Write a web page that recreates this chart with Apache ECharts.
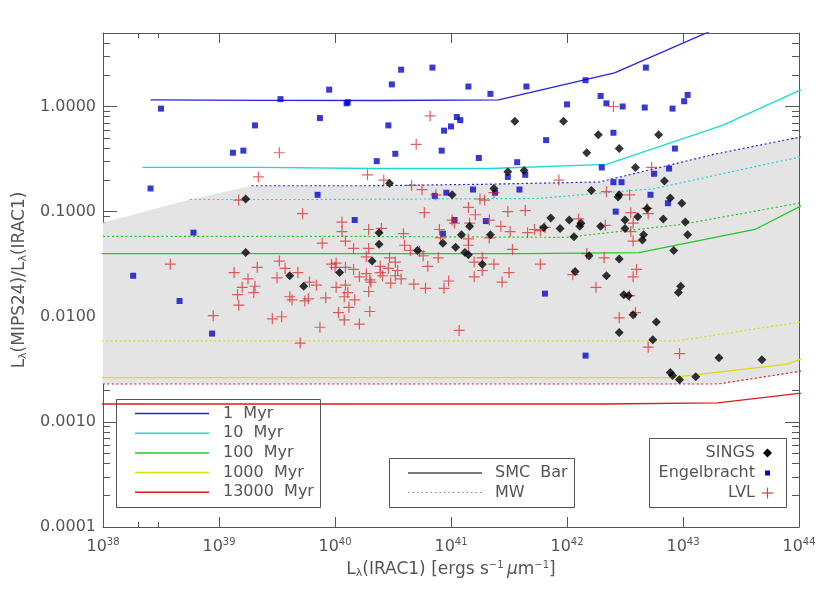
<!DOCTYPE html>
<html>
<head>
<meta charset="utf-8">
<script src="https://cdn.jsdelivr.net/npm/echarts@6/dist/echarts.min.js"></script>
<style>
  html, body { margin: 0; background: #fff; }
  #chart { width: 830px; height: 593px; }
</style>
</head>
<body>
<div id="chart"></div>
<script>
// all points are [log10 L(IRAC1), log10 ratio]
const sings = [
  [40.47,-0.73],[39.23,-0.88],[40.38,-1.20],[40.38,-1.31],[39.23,-1.39],[40.71,-1.37],[40.93,-1.30],
  [40.32,-1.47],[40.04,-1.58],[39.61,-1.61],[39.73,-1.71],[41.01,-0.84],[41.55,-0.14],[41.97,-0.14],
  [41.49,-0.62],[41.63,-0.61],[41.37,-0.78],[41.86,-1.06],[42.02,-1.08],[41.94,-1.16],[42.06,-1.24],
  [42.12,-1.11],[42.11,-1.14],[41.80,-1.15],[41.34,-1.22],[41.16,-1.14],[41.09,-1.22],[41.04,-1.34],
  [41.12,-1.39],[41.15,-1.41],[41.27,-1.50],[42.07,-1.57],[42.27,-0.27],[42.79,-0.27],[42.17,-0.44],
  [42.45,-0.40],[42.59,-0.58],[42.21,-0.80],[42.45,-0.84],[42.44,-0.86],[42.84,-0.71],[42.89,-0.87],
  [42.99,-0.92],[42.29,-1.14],[42.50,-1.08],[42.50,-1.16],[42.61,-1.05],[42.69,-0.97],[42.83,-1.07],
  [43.02,-1.10],[43.04,-1.22],[42.66,-1.22],[42.65,-1.27],[42.92,-1.37],[42.19,-1.42],[42.45,-1.45],
  [42.34,-1.61],[42.98,-1.71],[42.96,-1.77],[42.49,-1.79],[42.53,-1.80],[42.57,-1.98],[42.77,-2.05],
  [42.45,-2.15],[42.74,-2.22],[43.31,-2.39],[43.68,-2.41],[42.89,-2.53],[42.91,-2.56],[42.97,-2.60],
  [43.11,-2.57]
];
const engelbracht = [
  [38.50,-0.02],[38.41,-0.78],[39.12,-0.44],[39.21,-0.42],[39.31,-0.18],[39.53,0.07],[39.87,-0.11],
  [39.95,0.16],[39.85,-0.84],[38.78,-1.20],[38.26,-1.61],[38.66,-1.85],[38.94,-2.16],[40.17,-1.08],
  [40.86,-0.85],[40.96,-0.82],[40.93,-1.21],[40.10,0.03],[40.11,0.04],[40.57,0.35],[40.84,0.37],
  [40.49,0.21],[40.46,-0.18],[40.36,-0.52],[40.52,-0.45],[41.15,0.19],[41.34,0.12],[41.05,-0.10],
  [41.08,-0.13],[40.94,-0.23],[41.00,-0.19],[40.92,-0.42],[41.24,-0.49],[41.65,0.19],[42.00,0.02],
  [41.82,-0.32],[41.57,-0.53],[41.49,-0.67],[41.64,-0.65],[41.19,-0.79],[41.59,-0.79],[41.38,-0.82],
  [42.16,0.25],[42.68,0.37],[42.29,0.10],[42.34,0.03],[42.48,0.00],[42.67,-0.01],[42.91,-0.02],
  [43.01,0.05],[43.04,0.11],[42.40,-0.25],[42.93,-0.40],[42.30,-0.58],[42.88,-0.59],[42.75,-0.64],
  [42.40,-0.72],[42.47,-0.72],[42.72,-0.84],[42.87,-0.92],[42.42,-1.00],[41.03,-1.08],[41.30,-1.09],
  [41.81,-1.78],[42.16,-2.37]
];
const lvl = [
  [38.58,-1.50],[38.95,-1.99],[39.13,-1.58],[39.16,-1.79],[39.17,-1.89],[39.20,-1.72],[39.25,-1.64],
  [39.30,-1.77],[39.31,-1.71],[39.33,-1.53],[39.17,-0.89],[39.34,-0.67],[39.52,-0.44],[39.46,-2.02],
  [39.54,-2.00],[39.52,-1.47],[39.57,-1.54],[39.50,-1.63],[39.68,-1.58],[39.61,-1.81],[39.63,-1.84],
  [39.70,-2.25],[39.72,-1.02],[39.74,-1.85],[39.77,-1.83],[39.78,-1.67],[39.84,-1.70],[39.87,-2.10],
  [39.89,-1.30],[39.92,-1.82],[40.06,-1.10],[40.06,-1.19],[40.09,-1.28],[40.16,-1.35],[40.29,-1.35],
  [40.29,-1.17],[40.40,-1.16],[40.28,-0.65],[40.42,-0.70],[39.97,-1.50],[40.00,-1.53],[40.01,-1.49],
  [40.09,-1.53],[40.16,-1.55],[40.21,-1.62],[40.27,-1.59],[40.30,-1.65],[40.39,-1.52],[40.41,-1.61],
  [40.31,-1.67],[40.01,-1.72],[40.09,-1.70],[40.11,-1.77],[40.08,-1.81],[40.17,-1.84],[40.12,-1.91],
  [40.03,-1.96],[40.08,-2.03],[40.21,-2.07],[40.30,-1.95],[40.29,-1.76],[40.27,-1.43],[40.39,-1.58],
  [40.47,-1.44],[40.52,-1.48],[40.46,-1.54],[40.54,-1.56],[40.57,-1.64],[40.48,-1.68],[40.52,-1.61],
  [40.59,-1.21],[40.60,-1.32],[40.65,-1.37],[40.73,-1.38],[40.68,-1.69],[40.78,-1.73],[40.94,-1.73],
  [40.80,-1.52],[40.89,-1.44],[40.76,-1.42],[40.77,-1.01],[40.90,-1.17],[40.82,-0.09],[40.70,-0.36],
  [40.66,-0.75],[40.75,-0.79],[40.87,-0.84],[41.01,-1.08],[41.03,-1.11],[41.16,-1.11],[41.15,-0.96],
  [41.21,-1.03],[41.25,-0.88],[41.29,-0.89],[41.37,-0.82],[41.33,-1.08],[41.43,-1.14],[41.33,-1.25],
  [41.15,-1.26],[40.91,-1.25],[41.15,-1.32],[41.27,-1.44],[41.20,-1.48],[41.37,-1.50],[41.27,-1.56],
  [41.20,-1.62],[40.98,-1.66],[41.07,-2.13],[41.44,-1.67],[41.49,-1.00],[41.51,-1.19],[41.53,-1.36],
  [41.50,-1.58],[41.64,-0.99],[41.66,-1.20],[41.72,-1.17],[41.77,-1.18],[41.81,-1.15],[41.77,-1.50],
  [41.93,-0.70],[42.10,-1.07],[42.05,-1.60],[42.17,-1.40],[42.25,-1.72],[42.34,-0.81],[42.33,-1.13],
  [42.32,-1.44],[42.40,0.00],[42.54,-0.84],[42.55,-1.01],[42.57,-1.11],[42.55,-1.19],[42.57,-1.28],
  [42.69,-0.97],[42.70,-1.02],[42.73,-0.58],[42.60,-1.55],[42.57,-1.62],[42.54,-1.80],[42.59,-1.96],
  [42.45,-2.01],[42.70,-2.29],[42.97,-2.35]
];

// model tracks, SMC Bar extinction (solid)
const smc1 = [[38.41,0.063],[39.41,0.058],[40.41,0.057],[41.41,0.063],[42.41,0.32],[43.41,0.80]];
const smc10 = [[38.34,-0.58],[39.34,-0.58],[40.34,-0.59],[41.34,-0.59],[42.34,-0.55],[43.34,-0.18],[44.34,0.32]];
const smc100 = [[37.62,-1.40],[38.62,-1.40],[39.62,-1.40],[40.62,-1.40],[41.62,-1.40],[42.62,-1.39],[43.62,-1.17],[44.62,-0.61]];
const smc1000 = [[37.9,-2.58],[38.9,-2.58],[39.9,-2.58],[40.9,-2.58],[41.9,-2.58],[42.9,-2.58],[43.9,-2.45],[44.9,-2.04]];
const smc13000 = [[37.3,-2.83],[38.3,-2.83],[39.3,-2.83],[40.3,-2.83],[41.3,-2.83],[42.3,-2.83],[43.3,-2.82],[44.3,-2.69]];
// model tracks, MW extinction (dotted)
const mw1 = [[39.28,-0.754],[40.28,-0.754],[41.28,-0.74],[42.28,-0.718],[43.28,-0.452],[44.28,-0.231]];
const mw10 = [[38.75,-0.885],[39.75,-0.885],[40.75,-0.88],[41.75,-0.875],[42.75,-0.782],[43.75,-0.541],[44.75,-0.313]];
const mw100 = [[38,-1.235],[39,-1.235],[40,-1.235],[41,-1.24],[42,-1.245],[43,-1.12],[44,-0.92]];
const mw1000 = [[37.95,-2.23],[38.95,-2.23],[39.95,-2.23],[40.95,-2.23],[41.95,-2.23],[42.95,-2.23],[43.95,-2.06],[44.95,-1.89]];
const mw13000 = [[37.3,-2.64],[38.3,-2.64],[39.3,-2.64],[40.3,-2.64],[41.3,-2.64],[42.3,-2.64],[43.3,-2.64],[44.3,-2.47]];

// grey band outline
const grayBand = [[38,-1.105],[38.75,-0.885],[39.28,-0.754],[40.28,-0.754],[41.28,-0.74],[42.28,-0.718],
  [43.28,-0.452],[44,-0.295],[44,-2.525],[43.3,-2.64],[38,-2.64]];

const ageNames = ['1  Myr', '10  Myr', '100  Myr', '1000  Myr', '13000  Myr'];
const ageColors = ['#2424dc', '#1cd8d8', '#22c922', '#dcdc10', '#dc1a1a'];
const xMajor = [1e38, 1e39, 1e40, 1e41, 1e42, 1e43, 1e44];
const xMinor = [2e38, 3e38];
const yMajor = [1e-4, 1e-3, 1e-2, 1e-1, 1];
const yMinor = [];
[1e-4, 1e-3, 1e-2, 1e-1].forEach(d => [2,3,4,5,6,7,8,9].forEach(m => yMinor.push(m * d)));
[2,3,4].forEach(m => yMinor.push(m));

const FONT = 'DejaVu Sans';
const AX = '#555';
const lin = pts => pts.map(p => [Math.pow(10, p[0]), Math.pow(10, p[1])]);

const chart = echarts.init(document.getElementById('chart'));

const txt = (size, extra) => Object.assign({ fontFamily: FONT, fontSize: size, color: AX }, extra || {});
const nameRich = {
  m: txt(17, { lineHeight: 19 }),
  sub: txt(11, { lineHeight: 11, verticalAlign: 'bottom' }),
  sup: txt(10, { lineHeight: 10, verticalAlign: 'top' }),
  mu: txt(17, { lineHeight: 19, fontStyle: 'italic' })
};

const xBase = { type: 'log', logBase: 10, min: 1e38, max: 1e44, splitLine: { show: false } };
const yBase = { type: 'log', logBase: 10, min: 1e-4, max: 5, splitLine: { show: false } };
const line = { show: true, lineStyle: { color: AX, width: 1 } };
const noLine = { show: false };
const tick = (len, vals) => ({ show: true, inside: true, length: len, customValues: vals, lineStyle: { color: AX, width: 1 } });

const series = [{
  type: 'custom',
  silent: true,
  z: 1,
  data: [[1e40, 0.1]],
  renderItem: (params, api) => ({
    type: 'polygon',
    shape: { points: lin(grayBand).map(p => api.coord(p)) },
    style: { fill: '#e4e4e4' }
  })
}];

[smc1, smc10, smc100, smc1000, smc13000].forEach((t, i) => series.push({
  type: 'line', data: lin(t), symbol: 'none', silent: true, z: 3,
  lineStyle: { color: ageColors[i], width: 1.3 }
}));
[mw1, mw10, mw100, mw1000, mw13000].forEach((t, i) => series.push({
  type: 'line', data: lin(t), symbol: 'none', silent: true, z: 2,
  lineStyle: { color: ageColors[i], width: 1.2, type: [2, 2.5] }
}));

series.push({
  type: 'scatter', data: lin(engelbracht), symbol: 'rect', symbolSize: 6, z: 4,
  itemStyle: { color: '#0606c8' }
});
series.push({
  type: 'scatter', data: lin(lvl), z: 5,
  symbol: 'path://M0,4.45H10V5.55H0Z M4.45,0H5.55V10H4.45Z', symbolSize: 11,
  itemStyle: { color: 'rgba(218,36,36,0.9)' }
});
series.push({
  type: 'scatter', data: lin(sings), symbol: 'diamond', symbolSize: 9, z: 6,
  itemStyle: { color: '#000' }
});

// legend boxes
const graphic = [];
const box = (x, y, w, h) => graphic.push({ type: 'rect', silent: true, z: 100,
  shape: { x: x, y: y, width: w, height: h }, style: { fill: 'none', stroke: AX, lineWidth: 1 } });
const label = (x, y, text, align) => graphic.push({ type: 'text', silent: true, z: 100, x: x, y: y,
  style: { text: text, font: '16px "' + FONT + '"', fill: AX, align: align || 'left', verticalAlign: 'middle' } });
const seg = (x1, x2, y, color, width, dash) => graphic.push({ type: 'line', silent: true, z: 100,
  shape: { x1: x1, y1: y, x2: x2, y2: y }, style: { stroke: color, lineWidth: width, lineDash: dash || null } });

box(116.5, 399.5, 204, 108);
ageNames.forEach((n, i) => {
  const y = 413.5 + i * 19.7;
  seg(135, 209, y, ageColors[i], 1.5);
  label(223, y, n);
});

box(389.5, 458.5, 185, 49);
seg(408, 482, 473, '#777', 2);
seg(408, 482, 492.5, '#888', 1, [1.5, 3]);
label(495, 473, 'SMC  Bar');
label(495, 492.5, 'MW');

box(649.5, 438.5, 137, 69);
label(755, 453, 'SINGS', 'right');
label(755, 473, 'Engelbracht', 'right');
label(755, 493, 'LVL', 'right');
graphic.push({ type: 'polygon', silent: true, z: 100,
  shape: { points: [[767.5, 448.5], [772, 453], [767.5, 457.5], [763, 453]] }, style: { fill: '#000' } });
graphic.push({ type: 'rect', silent: true, z: 100,
  shape: { x: 765, y: 470.5, width: 5, height: 5 }, style: { fill: '#0606c8' } });
seg(762, 773, 493, '#e03c3c', 1.2);
graphic.push({ type: 'line', silent: true, z: 100,
  shape: { x1: 767.5, y1: 487.5, x2: 767.5, y2: 498.5 }, style: { stroke: '#e03c3c', lineWidth: 1.2 } });

chart.setOption({
  animation: false,
  backgroundColor: '#fff',
  grid: { left: 103, right: 31, top: 33, bottom: 66, containLabel: false },
  xAxis: [
    Object.assign({}, xBase, {
      position: 'bottom', axisLine: line, axisTick: tick(10, xMajor),
      axisLabel: {
        customValues: xMajor, margin: 10,
        formatter: v => '{b|10}{s|' + Math.round(Math.log10(v)) + '}',
        rich: {
          b: txt(16, { lineHeight: 20 }),
          s: txt(10, { lineHeight: 11, verticalAlign: 'top' })
        }
      },
      name: '{m|L}{sub|λ}{m|(IRAC1) [ergs s}{sup|−1} {mu|μ}{m|m}{sup|−1}{m|]}',
      nameLocation: 'middle', nameGap: 33,
      nameTextStyle: { rich: nameRich }
    }),
    Object.assign({}, xBase, { position: 'bottom', axisLine: noLine, axisTick: tick(5, xMinor), axisLabel: { show: false } }),
    Object.assign({}, xBase, { position: 'top', axisLine: line, axisTick: tick(10, xMajor), axisLabel: { show: false } }),
    Object.assign({}, xBase, { position: 'top', axisLine: noLine, axisTick: tick(5, xMinor), axisLabel: { show: false } })
  ],
  yAxis: [
    Object.assign({}, yBase, {
      position: 'left', axisLine: line, axisTick: tick(14, yMajor),
      axisLabel: {
        customValues: yMajor, margin: 7,
        formatter: v => Number(v).toFixed(4),
        fontFamily: FONT, fontSize: 16, color: AX
      },
      name: '{m|L}{sub|λ}{m|(MIPS24)/L}{sub|λ}{m|(IRAC1)}',
      nameLocation: 'middle', nameGap: 70, nameRotate: 90,
      nameTextStyle: { rich: nameRich }
    }),
    Object.assign({}, yBase, { position: 'left', axisLine: noLine, axisTick: tick(7, yMinor), axisLabel: { show: false } }),
    Object.assign({}, yBase, { position: 'right', axisLine: line, axisTick: tick(14, yMajor), axisLabel: { show: false } }),
    Object.assign({}, yBase, { position: 'right', axisLine: noLine, axisTick: tick(7, yMinor), axisLabel: { show: false } })
  ],
  series: series,
  graphic: graphic
});
</script>
</body>
</html>
